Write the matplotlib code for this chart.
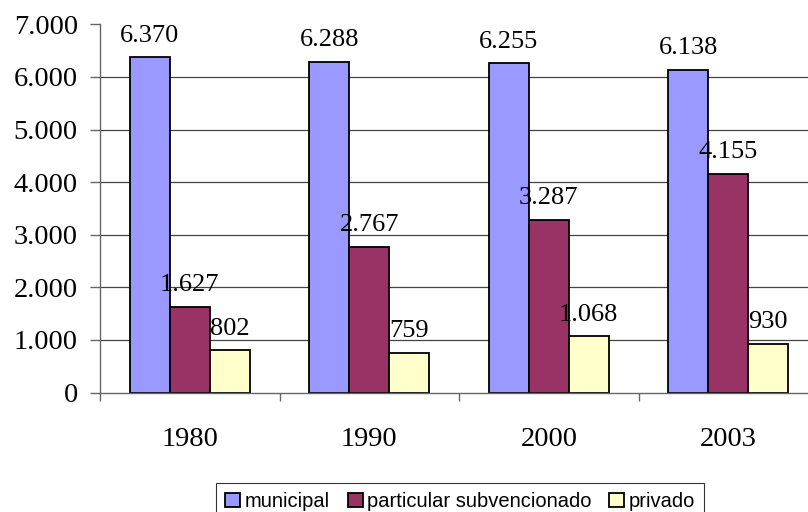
import matplotlib.pyplot as plt
import numpy as np
from matplotlib.ticker import FixedLocator, FuncFormatter

# Chart data
years = ['1980', '1990', '2000', '2003']
series_names = ['municipal', 'particular subvencionado', 'privado']
municipal = [6370, 6288, 6255, 6138]
subvencionado = [1627, 2767, 3287, 4155]
privado = [802, 759, 1068, 930]
colors = ['#9999FF', '#993366', '#FFFFCC']
y_ticks = [0, 1000, 2000, 3000, 4000, 5000, 6000, 7000]


def fmt_thousands(v):
    """Format numbers with a dot as thousands separator"""
    return f'{int(v):,}'.replace(',', '.')


fig = plt.figure(figsize=(8.08, 5.12), dpi=100)
ax = fig.add_axes([100 / 808, 1 - 392.5 / 512, 718 / 808, 368.2 / 512])

x = np.arange(len(years))
width = 0.2228
all_series = [municipal, subvencionado, privado]

bars_list = []
for i, (vals, name, col) in enumerate(zip(all_series, series_names, colors)):
    bars = ax.bar(x + (i - 1) * width, vals, width, color=col, edgecolor='black',
                  linewidth=1.3, label=name, zorder=2)
    bars_list.append(bars)

# Value labels on top of the bars
for bars, vals in zip(bars_list, all_series):
    for b, v in zip(bars, vals):
        ax.annotate(fmt_thousands(v), (b.get_x() + b.get_width() / 2, v),
                    xytext=(0, 15.5), textcoords='offset points',
                    ha='center', va='center', fontsize=19,
                    family='Liberation Serif', zorder=5)

ax.set_xlim(-0.5, len(years) - 0.5)
ax.set_ylim(0, 7000)

# Gridlines (no line at the top)
ax.hlines(y_ticks[1:-1], 0, 1, transform=ax.get_yaxis_transform(),
          colors='#444444', linewidth=0.9, zorder=1)

ax.yaxis.set_major_locator(FixedLocator(y_ticks))
ax.yaxis.set_major_formatter(FuncFormatter(lambda v, p: fmt_thousands(v)))
ax.tick_params(axis='y', direction='out', length=7, width=1, color='#666666',
               pad=9, labelsize=20.5)

ax.set_xticks(x)
ax.set_xticklabels(years)
ax.set_xticks(np.arange(-0.5, len(years), 1), minor=True)
ax.tick_params(axis='x', which='major', length=0, pad=25, labelsize=20.5)
ax.tick_params(axis='x', which='minor', direction='out', length=6, width=1,
               color='#666666')

for lbl in ax.get_xticklabels() + ax.get_yticklabels():
    lbl.set_family('Liberation Serif')

for s in ['top', 'right']:
    ax.spines[s].set_visible(False)
for s in ['left', 'bottom']:
    ax.spines[s].set_color('#666666')
    ax.spines[s].set_linewidth(1)

leg = fig.legend(loc='upper center', bbox_to_anchor=(460 / 808, 1 - 483 / 512),
                 ncol=3, frameon=True, fancybox=False, edgecolor='black',
                 prop={'family': 'Liberation Sans', 'size': 14.5},
                 handlelength=0.75, handleheight=0.75, handletextpad=0.2,
                 columnspacing=0.9, borderpad=0.45, borderaxespad=0)
leg.get_frame().set_linewidth(0.8)

fig.savefig('out.png', dpi=100)
